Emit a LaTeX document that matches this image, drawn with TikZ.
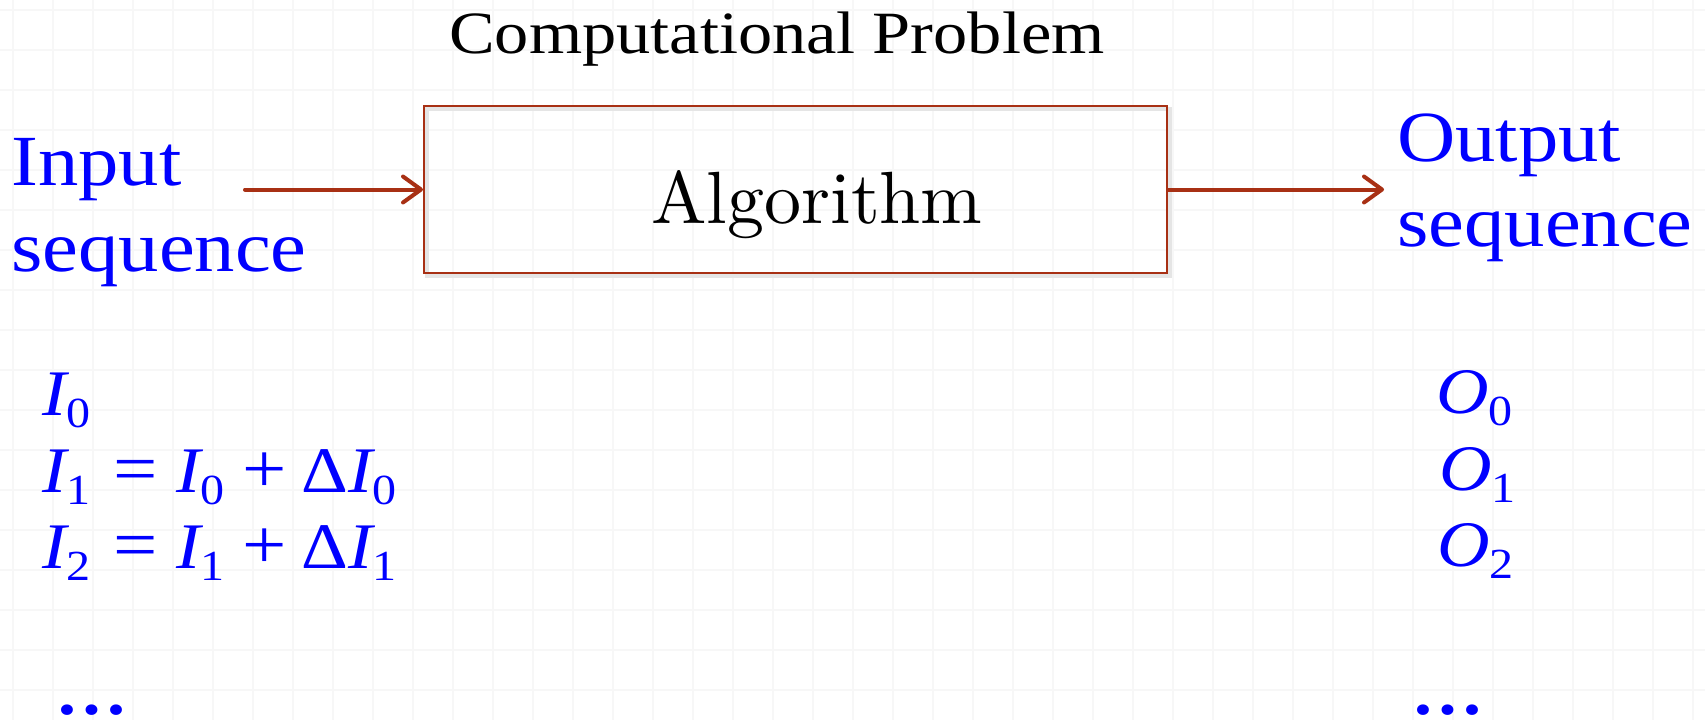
\documentclass[tikz,border=0pt]{standalone}
\usepackage{fontspec}
\usepackage{graphicx}
\usetikzlibrary{arrows.meta}
\newfontfamily\cam{Liberation Serif}[FakeStretch=1.12]
\newfontfamily\camt{Liberation Serif}[FakeStretch=1.14]
\newfontfamily\lmten{lmroman10-regular.otf}
\definecolor{arrowred}{RGB}{168,48,20}
\definecolor{seqblue}{RGB}{0,0,255}
\definecolor{gridcol}{RGB}{247,247,247}
\newcommand\mvar[1]{{\itshape #1}}
\newcommand\msub[1]{\raisebox{-0.19em}{\scalebox{0.66}{#1}}}
\tikzset{
  gridline/.style={draw=gridcol, line width=2pt},
  titletext/.style={anchor=base west, inner sep=0pt, font=\camt\fontsize{60}{72}\selectfont, text=black},
  seqtext/.style={anchor=base west, inner sep=0pt, font=\cam\fontsize{72}{86}\selectfont, text=seqblue},
  mathtext/.style={anchor=base west, inner sep=0pt, font=\cam\fontsize{65}{78}\selectfont, text=seqblue},
  algbox/.style={draw=arrowred, line width=2pt, inner sep=0pt, minimum width=743pt, minimum height=167pt},
  boxshadow/.style={draw=black!10, line width=4pt},
  flow/.style={draw=arrowred, line width=4pt, line cap=round, -{Straight Barb[length=18pt, width=26pt, line cap=round, line join=round]}},
}
\begin{document}
\begin{tikzpicture}[x=1pt, y=-1pt]
\useasboundingbox (0,0) rectangle (1705,720);
% faint grid
\foreach \gx in {13,53,...,1693} \draw[gridline] (\gx,0) -- (\gx,720);
\foreach \gy in {10,50,...,690} \draw[gridline] (0,\gy) -- (1705,\gy);

% title
\node[titletext] (title) at (449,53) {Computational Problem};

% algorithm box
\draw[boxshadow] (426.5,108.5) rectangle (1169.5,275.5);
\node[algbox] (box) at (795.5,189.5) {};
\node[anchor=base, inner sep=0pt, font=\lmten\fontsize{74}{80}\selectfont] (algtext) at (817,223) {Algorithm};

% input / output labels
\node[seqtext] (in1) at (11,185) {Input};
\node[seqtext] (in2) at (11,271) {sequence};
\node[seqtext] (out1) at (1397,161) {Output};
\node[seqtext] (out2) at (1397,246) {sequence};

% arrows
\coordinate (astart) at (245,189.5);
\coordinate (aend) at (1384,189.5);
\draw[flow] (astart) -- (box.west);
\draw[flow] (box.east) -- (aend);

% input sequence
\node[mathtext] (i0) at (42,415) {\mvar{I}\msub{0}};
\node[mathtext] (i1) at (42,492) {\mvar{I}\msub{1}\hspace{0.36em}\scalebox{1.08}{=}\hspace{0.28em}\mvar{I}\msub{0}\hspace{0.28em}\scalebox{1.08}{+}\hspace{0.22em}Δ\mvar{I}\msub{0}};
\node[mathtext] (i2) at (42,568) {\mvar{I}\msub{2}\hspace{0.36em}\scalebox{1.08}{=}\hspace{0.28em}\mvar{I}\msub{1}\hspace{0.28em}\scalebox{1.08}{+}\hspace{0.22em}Δ\mvar{I}\msub{1}};
\node[mathtext, font=\cam\bfseries\fontsize{65}{78}\selectfont] (idots) at (55,714) {…};

% output sequence
\node[mathtext] (o0) at (1436,413) {\mvar{O}\msub{0}};
\node[mathtext] (o1) at (1439,490) {\mvar{O}\msub{1}};
\node[mathtext] (o2) at (1437,566) {\mvar{O}\msub{2}};
\node[mathtext, font=\cam\bfseries\fontsize{65}{78}\selectfont] (odots) at (1411,714) {…};
\end{tikzpicture}
\end{document}
